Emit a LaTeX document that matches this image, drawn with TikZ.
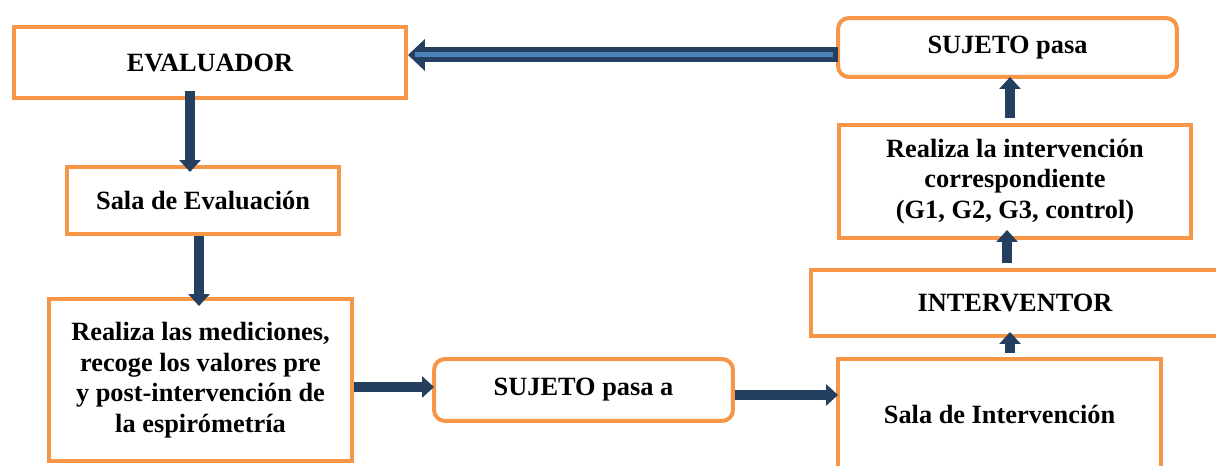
\documentclass[tikz,border=0pt]{standalone}
\usepackage{fontspec}
\setmainfont{Liberation Serif}
\usetikzlibrary{positioning, arrows.meta, calc}
\definecolor{box_orange}{HTML}{F79646}
\definecolor{arrow_navy}{HTML}{243F60}
\definecolor{arrow_blue}{HTML}{4F81BD}
\tikzset{
    generic_node/.style={rectangle, text centered, align=center, draw=box_orange, line width=0.08cm, inner sep=0pt,
        font=\fontsize{15}{17.4}\selectfont\bfseries},
    round_node/.style={generic_node, rounded corners=0.22cm},
    arrow/.style={draw=arrow_navy, line width=0.19cm, -{Triangle[width=0.42cm, length=0.24cm]}},
    big_arrow/.style={draw=arrow_navy, line width=0.3cm, -{Triangle[width=0.62cm, length=0.34cm]}},
    inner_line/.style={draw=arrow_blue, line width=0.1cm},
}

\begin{document}
\begin{tikzpicture}[x=0.02cm, y=-0.02cm]
      \clip (0,0) rectangle (1216,466);
      %%%%%%%%%%%%%
      % EVALUADOR %
      %%%%%%%%%%%%%
      \node (evaluador) [generic_node, minimum width=7.84cm, minimum height=1.42cm] at (210,62.5)
            {EVALUADOR};
      \node (sala_eval) [generic_node, minimum width=5.44cm, minimum height=1.34cm] at (203,200.5)
            {Sala de Evaluación};
      \node (mediciones) [generic_node, minimum width=6.06cm, minimum height=3.24cm] at (200.5,380)
            {Realiza las mediciones,\\ recoge los valores pre\\ y post-intervención de\\ la espirómetría};
      \node (sujeto_pasa_a) [round_node, minimum width=5.98cm, minimum height=1.24cm] at (583.5,390)
            {SUJETO pasa a};
      %%%%%%%%%%%%%%%%
      % INTERVENTOR  %
      %%%%%%%%%%%%%%%%
      \node (sala_interv) [generic_node, minimum width=6.46cm, minimum height=2.2cm] at (999.5,414)
            {Sala de Intervención};
      \node (interventor) [generic_node, minimum width=8.4cm, minimum height=1.32cm] at (1021,303)
            {\hspace*{-0.24cm}INTERVENTOR};
      \node (intervencion) [generic_node, minimum width=7.04cm, minimum height=2.26cm] at (1015,181.5)
            {Realiza la intervención\\ correspondiente\\ (G1, G2, G3, control)};
      \node (sujeto_pasa) [round_node, minimum width=6.78cm, minimum height=1.18cm] at (1007.5,47.5)
            {SUJETO pasa};

      \draw [arrow, shorten <=-0.18cm, shorten >=-0.14cm] ([xshift=-0.4cm]evaluador.south)
            -- ([xshift=-0.4cm]evaluador.south |- sala_eval.north);
      \draw [arrow, shorten >=-0.18cm] ([xshift=-0.08cm]sala_eval.south)
            -- ([xshift=-0.08cm]sala_eval.south |- mediciones.north);
      \draw [arrow, shorten >=-0.04cm] ([yshift=-0.14cm]mediciones.east)
            -- ([yshift=-0.14cm]mediciones.east -| sujeto_pasa_a.west);
      \draw [arrow, shorten >=-0.04cm] ([yshift=-0.1cm]sujeto_pasa_a.east)
            -- ([yshift=-0.1cm]sujeto_pasa_a.east -| sala_interv.west);
      \draw [arrow, shorten <=0.08cm, shorten >=-0.12cm] ([xshift=0.21cm]sala_interv.north)
            -- ([xshift=0.21cm]sala_interv.north |- interventor.south);
      \draw [arrow, shorten <=0.1cm, shorten >=-0.2cm] ([xshift=-0.28cm]interventor.north)
            -- ([xshift=-0.28cm]interventor.north |- intervencion.south);
      \draw [arrow, shorten <=0.1cm, shorten >=-0.04cm] ([xshift=-0.1cm]intervencion.north)
            -- ([xshift=-0.1cm]intervencion.north |- sujeto_pasa.south);
      % vuelta al evaluador
      \draw [big_arrow, shorten <=-0.04cm] ([yshift=-0.15cm]sujeto_pasa.west)
            -- ([yshift=-0.15cm]sujeto_pasa.west -| evaluador.east);
      \draw [inner_line, shorten <=0.06cm, shorten >=0.14cm] ([yshift=-0.15cm]sujeto_pasa.west)
            -- ([yshift=-0.15cm]sujeto_pasa.west -| evaluador.east);
   \end{tikzpicture}
\end{document}
